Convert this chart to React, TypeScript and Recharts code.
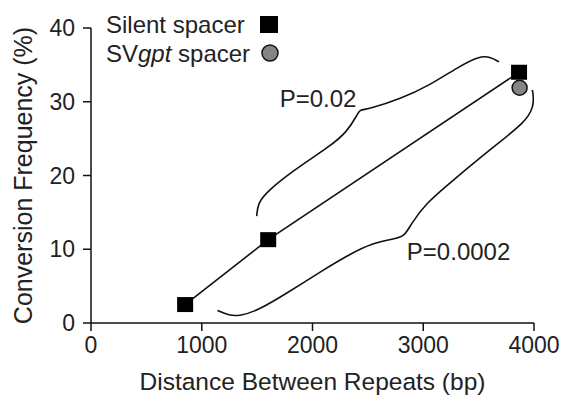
import React from 'react';
import { ComposedChart, Line, Scatter, XAxis, YAxis, Label } from 'recharts';

const xTicks = [0, 1000, 2000, 3000, 4000];
const yTicks = [0, 10, 20, 30, 40];

const silentSpacer = [
  { x: 850, y: 2.5 },
  { x: 1600, y: 11.3 },
  { x: 3865, y: 34.0 },
];

const svgptSpacer = [{ x: 3870, y: 31.9 }];

// brace outlines in data units
const upperBrace = [
  { x: 1496, y: 14.5 },
  { x: 1506, y: 16.2 },
  { x: 1587, y: 17.8 },
  { x: 1829, y: 20.7 },
  { x: 2152, y: 23.9 },
  { x: 2313, y: 25.9 },
  { x: 2410, y: 28.4 },
  { x: 2426, y: 28.9 },
  { x: 2506, y: 29.0 },
  { x: 2797, y: 30.4 },
  { x: 3055, y: 32.2 },
  { x: 3313, y: 34.7 },
  { x: 3507, y: 36.2 },
  { x: 3603, y: 36.1 },
  { x: 3684, y: 35.4 },
];

const lowerBrace = [
  { x: 1142, y: 1.7 },
  { x: 1248, y: 1.0 },
  { x: 1345, y: 0.95 },
  { x: 1507, y: 1.7 },
  { x: 1765, y: 4.0 },
  { x: 2087, y: 7.1 },
  { x: 2345, y: 9.4 },
  { x: 2539, y: 10.8 },
  { x: 2733, y: 11.4 },
  { x: 2829, y: 11.7 },
  { x: 2893, y: 13.5 },
  { x: 3023, y: 16.2 },
  { x: 3248, y: 19.1 },
  { x: 3635, y: 23.9 },
  { x: 3926, y: 27.3 },
  { x: 3996, y: 29.3 },
  { x: 3994, y: 30.9 },
  { x: 3985, y: 31.6 },
];

const pLabels = [
  { x: 1704, y: 29.3, text: 'P=0.02' },
  { x: 2852, y: 8.5, text: 'P=0.0002' },
];

const font = '"Liberation Sans", Arial, sans-serif';
const ink = '#222';

const SquareMark = (p: any) => (
  <rect x={p.cx - 8} y={p.cy - 7.5} width={16} height={15} fill="#000" />
);

const CircleMark = (p: any) => (
  <circle cx={p.cx} cy={p.cy} r={7.5} fill="#858585" stroke="#111" strokeWidth={1.5} />
);

const TextMark = (p: any) => (
  <text x={p.cx} y={p.cy} fill={ink} fontSize={24} fontFamily={font}>
    {p.payload.text}
  </text>
);

export default function App() {
  return (
    <div style={{ position: 'absolute', left: 0, top: 0, width: 561, height: 402, background: '#fff', fontFamily: font }}>
      <ComposedChart width={561} height={402} margin={{ top: 28, right: 27, bottom: 0, left: 0 }}>
        <XAxis
          type="number"
          dataKey="x"
          domain={[0, 4000]}
          ticks={xTicks}
          allowDataOverflow
          height={79}
          stroke="#111"
          strokeWidth={1.5}
          tickSize={8}
          tickMargin={6}
          tick={{ fill: ink, fontSize: 23, fontFamily: font }}
        >
          <Label
            value="Distance Between Repeats (bp)"
            position="insideBottom"
            offset={12}
            fill={ink}
            fontSize={24.5}
            fontFamily={font}
          />
        </XAxis>
        <YAxis
          type="number"
          dataKey="y"
          domain={[0, 40]}
          ticks={yTicks}
          allowDataOverflow
          width={91}
          stroke="#111"
          strokeWidth={1.5}
          tickSize={8}
          tickMargin={8}
          tick={{ fill: ink, fontSize: 23, fontFamily: font }}
        >
          <Label
            value="Conversion Frequency (%)"
            angle={-90}
            position="center"
            dx={-22}
            fill={ink}
            fontSize={25}
            fontFamily={font}
          />
        </YAxis>
        <Line data={upperBrace} dataKey="y" type="basis" stroke="#111" strokeWidth={1.6} dot={false} isAnimationActive={false} />
        <Line data={lowerBrace} dataKey="y" type="basis" stroke="#111" strokeWidth={1.6} dot={false} isAnimationActive={false} />
        <Line data={silentSpacer} dataKey="y" type="linear" stroke="#111" strokeWidth={1.6} dot={false} isAnimationActive={false} />
        <Scatter data={svgptSpacer} dataKey="y" shape={CircleMark} isAnimationActive={false} />
        <Scatter data={silentSpacer} dataKey="y" shape={SquareMark} isAnimationActive={false} />
        <Scatter data={pLabels} dataKey="y" shape={TextMark} isAnimationActive={false} />
      </ComposedChart>
      <svg width={561} height={80} style={{ position: 'absolute', left: 0, top: 0, pointerEvents: 'none' }}>
        <text x={106} y={33} fill={ink} fontSize={24} fontFamily={font}>Silent spacer</text>
        <rect x={260} y={16} width={18} height={17} fill="#000" />
        <text x={106} y={62} fill={ink} fontSize={24} fontFamily={font}>
          SV<tspan fontStyle="italic">gpt</tspan> spacer
        </text>
        <circle cx={270} cy={53} r={8} fill="#858585" stroke="#111" strokeWidth={1.5} />
      </svg>
    </div>
  );
}
